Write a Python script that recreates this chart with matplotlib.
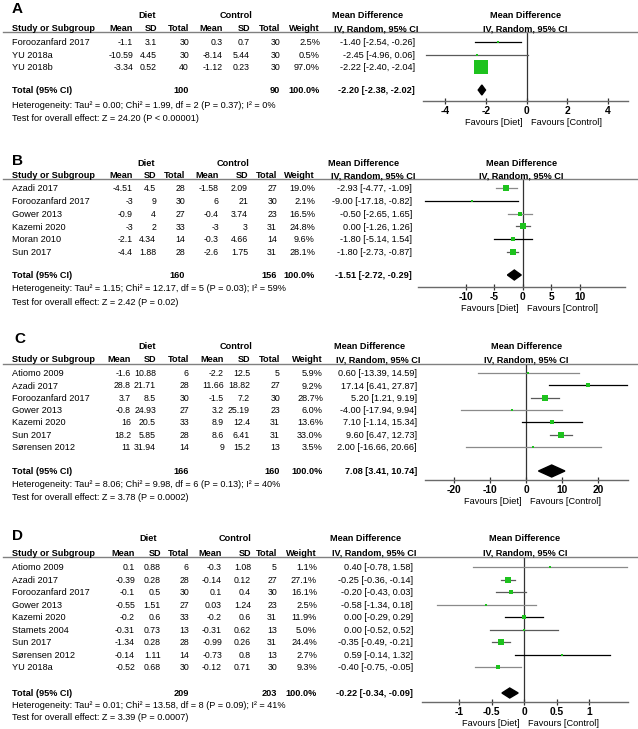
import matplotlib
matplotlib.use('Agg')
import matplotlib.pyplot as plt
from matplotlib.patches import Polygon

plt.rcParams['font.family'] = ['Liberation Sans', 'DejaVu Sans']

# ---------------- DATA ----------------
A_studies = ["Foroozanfard 2017", "YU 2018a", "YU 2018b"]
A_diet_mean = [-1.1, -10.59, -3.34]
A_diet_sd = [3.1, 4.45, 0.52]
A_diet_n = [30, 30, 40]
A_ctrl_mean = [0.3, -8.14, -1.12]
A_ctrl_sd = [0.7, 5.44, 0.23]
A_ctrl_n = [30, 30, 30]
A_weight = [2.5, 0.5, 97.0]
A_md = [-1.40, -2.45, -2.22]
A_lo = [-2.54, -4.96, -2.40]
A_hi = [-0.26, 0.06, -2.04]
A_total_n = [100, 90]
A_total = [-2.20, -2.38, -2.02]
A_het = "Heterogeneity: Tau² = 0.00; Chi² = 1.99, df = 2 (P = 0.37); I² = 0%"
A_test = "Test for overall effect: Z = 24.20 (P < 0.00001)"
A_ticks = [-4, -2, 0, 2, 4]

B_studies = ["Azadi 2017", "Foroozanfard 2017", "Gower 2013", "Kazemi 2020", "Moran 2010", "Sun 2017"]
B_diet_mean = [-4.51, -3, -0.9, -3, -2.1, -4.4]
B_diet_sd = [4.5, 9, 4, 2, 4.34, 1.88]
B_diet_n = [28, 30, 27, 33, 14, 28]
B_ctrl_mean = [-1.58, 6, -0.4, -3, -0.3, -2.6]
B_ctrl_sd = [2.09, 21, 3.74, 3, 4.66, 1.75]
B_ctrl_n = [27, 30, 23, 31, 14, 31]
B_weight = [19.0, 2.1, 16.5, 24.8, 9.6, 28.1]
B_md = [-2.93, -9.00, -0.50, 0.00, -1.80, -1.80]
B_lo = [-4.77, -17.18, -2.65, -1.26, -5.14, -2.73]
B_hi = [-1.09, -0.82, 1.65, 1.26, 1.54, -0.87]
B_total_n = [160, 156]
B_total = [-1.51, -2.72, -0.29]
B_het = "Heterogeneity: Tau² = 1.15; Chi² = 12.17, df = 5 (P = 0.03); I² = 59%"
B_test = "Test for overall effect: Z = 2.42 (P = 0.02)"
B_ticks = [-10, -5, 0, 5, 10]

C_studies = ["Atiomo 2009", "Azadi 2017", "Foroozanfard 2017", "Gower 2013", "Kazemi 2020", "Sun 2017", "Sørensen 2012"]
C_diet_mean = [-1.6, 28.8, 3.7, -0.8, 16, 18.2, 11]
C_diet_sd = [10.88, 21.71, 8.5, 24.93, 20.5, 5.85, 31.94]
C_diet_n = [6, 28, 30, 27, 33, 28, 14]
C_ctrl_mean = [-2.2, 11.66, -1.5, 3.2, 8.9, 8.6, 9]
C_ctrl_sd = [12.5, 18.82, 7.2, 25.19, 12.4, 6.41, 15.2]
C_ctrl_n = [5, 27, 30, 23, 31, 31, 13]
C_weight = [5.9, 9.2, 28.7, 6.0, 13.6, 33.0, 3.5]
C_md = [0.60, 17.14, 5.20, -4.00, 7.10, 9.60, 2.00]
C_lo = [-13.39, 6.41, 1.21, -17.94, -1.14, 6.47, -16.66]
C_hi = [14.59, 27.87, 9.19, 9.94, 15.34, 12.73, 20.66]
C_total_n = [166, 160]
C_total = [7.08, 3.41, 10.74]
C_het = "Heterogeneity: Tau² = 8.06; Chi² = 9.98, df = 6 (P = 0.13); I² = 40%"
C_test = "Test for overall effect: Z = 3.78 (P = 0.0002)"
C_ticks = [-20, -10, 0, 10, 20]

D_studies = ["Atiomo 2009", "Azadi 2017", "Foroozanfard 2017", "Gower 2013", "Kazemi 2020",
             "Stamets 2004", "Sun 2017", "Sørensen 2012", "YU 2018a"]
D_diet_mean = [0.1, -0.39, -0.1, -0.55, -0.2, -0.31, -1.34, -0.14, -0.52]
D_diet_sd = [0.88, 0.28, 0.5, 1.51, 0.6, 0.73, 0.28, 1.11, 0.68]
D_diet_n = [6, 28, 30, 27, 33, 13, 28, 14, 30]
D_ctrl_mean = [-0.3, -0.14, 0.1, 0.03, -0.2, -0.31, -0.99, -0.73, -0.12]
D_ctrl_sd = [1.08, 0.12, 0.4, 1.24, 0.6, 0.62, 0.26, 0.8, 0.71]
D_ctrl_n = [5, 27, 30, 23, 31, 13, 31, 13, 30]
D_weight = [1.1, 27.1, 16.1, 2.5, 11.9, 5.0, 24.4, 2.7, 9.3]
D_md = [0.40, -0.25, -0.20, -0.58, 0.00, 0.00, -0.35, 0.59, -0.40]
D_lo = [-0.78, -0.36, -0.43, -1.34, -0.29, -0.52, -0.49, -0.14, -0.75]
D_hi = [1.58, -0.14, 0.03, 0.18, 0.29, 0.52, -0.21, 1.32, -0.05]
D_total_n = [209, 203]
D_total = [-0.22, -0.34, -0.09]
D_het = "Heterogeneity: Tau² = 0.01; Chi² = 13.58, df = 8 (P = 0.09); I² = 41%"
D_test = "Test for overall effect: Z = 3.39 (P = 0.0007)"
D_ticks = [-1, -0.5, 0, 0.5, 1]

# ---------------- LAYOUT (pixels) ----------------
G1, G2, G3 = '#5a5a5a', '#8a8a8a', '#000000'
layout = {
    'A': dict(label=(12, 8), group=15, header=28, line=32, row0=42, sp=12.5, total=90, het=104.5, test=117.5,
              cols=[133, 157, 189, 223, 250, 280, 320], ci=415, diet_c=147, ctrl_c=236, md_c=368,
              ax=(423, 628, 100.7), xlim=(-5.1, 5.0), box_k=1.42, dia_h=5,
              ci_col=[G3, G1, G1]),
    'B': dict(label=(12, 160), group=163, header=175, line=179, row0=188, sp=12.8, total=275, het=288, test=301.5,
              cols=[133, 156, 185, 219, 248, 277, 315], ci=412, diet_c=146, ctrl_c=233, md_c=364,
              ax=(418, 625, 287), xlim=(-18.4, 17.9), box_k=1.2, dia_h=5,
              ci_col=[G2, G3, G2, G1, G3, G1]),
    'C': dict(label=(14, 338), group=346, header=359, line=364, row0=373, sp=12.3, total=471, het=484, test=497,
              cols=[131, 156, 189, 224, 250, 280, 323], ci=417, diet_c=147, ctrl_c=236, md_c=370,
              ax=(425, 628, 480), xlim=(-28.0, 28.2), box_k=1.05, dia_h=6,
              ci_col=[G2, G3, G1, G2, G3, G1, G2]),
    'D': dict(label=(12, 535), group=538, header=552.5, line=557, row0=567, sp=12.5, total=693, het=705, test=717,
              cols=[135, 161, 189, 222, 251, 277, 317], ci=413, diet_c=148, ctrl_c=235, md_c=366,
              ax=(422, 628, 702), xlim=(-1.57, 1.6), box_k=1.15, dia_h=5,
              ci_col=[G2, G1, G1, G2, G3, G1, G1, G3, G2]),
}

panels = {
    'A': (A_studies, A_diet_mean, A_diet_sd, A_diet_n, A_ctrl_mean, A_ctrl_sd, A_ctrl_n, A_weight,
          A_md, A_lo, A_hi, A_total_n, A_total, A_het, A_test, A_ticks),
    'B': (B_studies, B_diet_mean, B_diet_sd, B_diet_n, B_ctrl_mean, B_ctrl_sd, B_ctrl_n, B_weight,
          B_md, B_lo, B_hi, B_total_n, B_total, B_het, B_test, B_ticks),
    'C': (C_studies, C_diet_mean, C_diet_sd, C_diet_n, C_ctrl_mean, C_ctrl_sd, C_ctrl_n, C_weight,
          C_md, C_lo, C_hi, C_total_n, C_total, C_het, C_test, C_ticks),
    'D': (D_studies, D_diet_mean, D_diet_sd, D_diet_n, D_ctrl_mean, D_ctrl_sd, D_ctrl_n, D_weight,
          D_md, D_lo, D_hi, D_total_n, D_total, D_het, D_test, D_ticks),
}

W, H = 638, 729
fig = plt.figure(figsize=(W / 100, H / 100), dpi=100)
FS = 6.6
FS_NUM = 6.3
GREEN = '#1ec21e'


def T(x, y, s, ha='left', bold=False, size=FS, color='black'):
    half_cap = size * 100 / 72 * 0.716 / 2
    fig.text(x / W, 1 - (y + half_cap) / H, s, ha=ha, va='baseline', fontsize=size,
             fontweight='bold' if bold else 'normal', color=color)


def g(v):
    return f"{v:g}"


for key, L in layout.items():
    (studies, dm, dsd, dn, cm, csd, cn, wt, md, lo, hi, tot_n, tot, het, test, ticks) = panels[key]
    cols = L['cols']
    T(L['label'][0], L['label'][1], key, bold=True, size=11)
    T(L['diet_c'], L['group'], "Diet", ha='center', bold=True)
    T(L['ctrl_c'], L['group'], "Control", ha='center', bold=True)
    T(L['md_c'], L['group'], "Mean Difference", ha='center', bold=True)
    axl, axr, axy = L['ax']
    axc = (axl + axr) / 2
    T(axc, L['group'], "Mean Difference", ha='center', bold=True)
    T(12, L['header'], "Study or Subgroup", bold=True)
    for c, h in zip(cols, ["Mean", "SD", "Total", "Mean", "SD", "Total", "Weight"]):
        T(c, L['header'], h, ha='right', bold=True)
    T(L['ci'] + 3, L['header'], "IV, Random, 95% CI", ha='right', bold=True)
    T(axc, L['header'], "IV, Random, 95% CI", ha='center', bold=True)
    fig.add_artist(plt.Line2D([3 / W, 637 / W], [1 - L['line'] / H] * 2, color='#808080', lw=1.0))
    ys = [L['row0'] + i * L['sp'] for i in range(len(studies))]
    for i, y in enumerate(ys):
        T(12, y, studies[i])
        vals = [g(dm[i]), g(dsd[i]), str(dn[i]), g(cm[i]), g(csd[i]), str(cn[i])]
        for c, v in zip(cols[:6], vals):
            T(c, y, v, ha='right', size=FS_NUM)
        T(cols[6], y, f"{wt[i]:.1f}%", ha='right')
        T(L['ci'], y, f"{md[i]:.2f} [{lo[i]:.2f}, {hi[i]:.2f}]", ha='right')
    T(12, L['total'], "Total (95% CI)", bold=True)
    T(cols[2], L['total'], str(tot_n[0]), ha='right', bold=True)
    T(cols[5], L['total'], str(tot_n[1]), ha='right', bold=True)
    T(cols[6], L['total'], "100.0%", ha='right', bold=True)
    T(L['ci'], L['total'], f"{tot[0]:.2f} [{tot[1]:.2f}, {tot[2]:.2f}]", ha='right', bold=True)
    T(12, L['het'], het)
    T(12, L['test'], test)

    ax = fig.add_axes([axl / W, 1 - axy / H, (axr - axl) / W, (axy - L['line']) / H])
    ax.set_xlim(*L['xlim'])
    ax.set_ylim(axy, L['line'])
    ax.patch.set_alpha(0)
    for s in ['top', 'left', 'right']:
        ax.spines[s].set_visible(False)
    ax.spines['bottom'].set_color('#6a6a6a')
    ax.spines['bottom'].set_linewidth(1.0)
    ax.set_yticks([])
    ax.set_xticks(ticks)
    ax.set_xticklabels([g(t) for t in ticks], fontweight='bold', fontsize=7.4)
    ax.tick_params(axis='x', direction='inout', length=5, width=0.9, color='#333333', pad=1.0)
    ax.axvline(0, color='#333333', lw=0.9, zorder=1)
    for i, y in enumerate(ys):
        ax.plot([lo[i], hi[i]], [y, y], color=L['ci_col'][i], lw=0.9, zorder=2, clip_on=False)
        side_px = max(2.0, L['box_k'] * wt[i] ** 0.5)
        side_pt = side_px * 0.72
        ax.scatter([md[i]], [y], marker='s', s=side_pt ** 2, color=GREEN, linewidths=0, zorder=3,
                   clip_on=False)
    yt, hd = L['total'], L['dia_h']
    ax.add_patch(Polygon([[tot[1], yt], [tot[0], yt - hd], [tot[2], yt], [tot[0], yt + hd]],
                         closed=True, color='black', zorder=4, clip_on=False))
    ax.annotate("Favours [Diet]", xy=(0, 0), xycoords=('data', 'axes fraction'),
                xytext=(-3, -15.5), textcoords='offset points', ha='right', va='center', fontsize=FS)
    ax.annotate("Favours [Control]", xy=(0, 0), xycoords=('data', 'axes fraction'),
                xytext=(3, -15.5), textcoords='offset points', ha='left', va='center', fontsize=FS)

fig.savefig('out.png', dpi=100)
